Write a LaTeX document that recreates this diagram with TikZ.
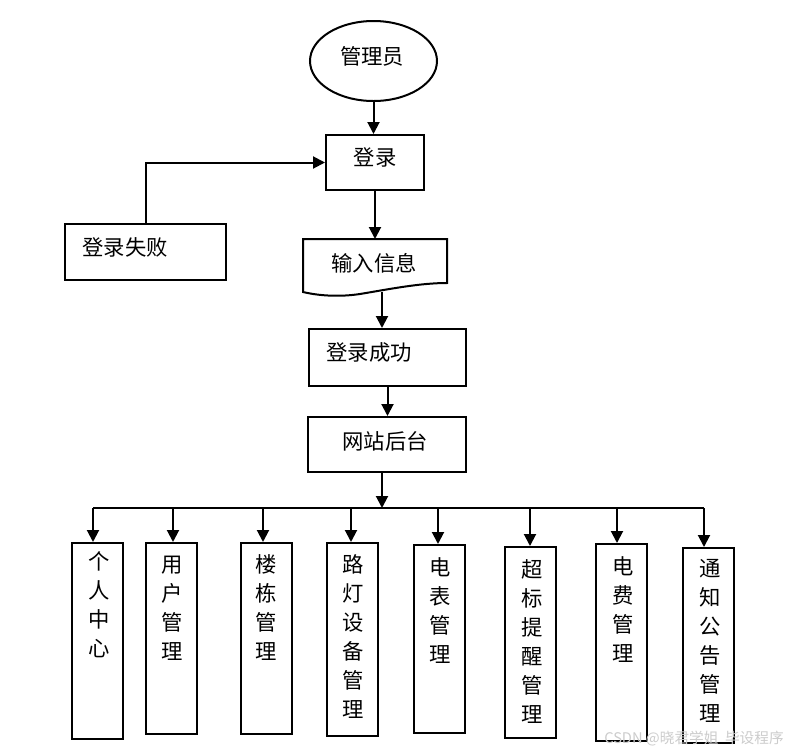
\documentclass[tikz,border=0pt]{standalone}
\usepackage{fontspec}
\newfontfamily\cjk{Noto Sans CJK SC}
\usetikzlibrary{arrows.meta,calc,shapes.geometric}
\tikzset{
  line/.style={line width=1.5pt},
  arr/.style={line width=1.5pt,-{Triangle[length=9pt,width=9pt]}},
  box/.style={draw,line width=1.5pt,rectangle,inner sep=0pt},
  vbox/.style={box,minimum width=38.25pt,anchor=north},
  txt/.style={font=\cjk\fontsize{16}{21.75}\selectfont,inner sep=0pt},
  vtxt/.style={txt,align=center,anchor=north},
}
\begin{document}
\begin{tikzpicture}[x=0.75pt,y=-0.75pt]
\fill[white] (0,0) rectangle (790,754);
\useasboundingbox (0,0) rectangle (790,754);

% top part
\node[draw,ellipse,line width=1.5pt,minimum width=95.25pt,minimum height=60pt,inner sep=0pt] (mgr) at (373.5,61) {};
\node[txt] (tmgr) at (372,56) {管理员};

\node[box,minimum width=73.5pt,minimum height=41.25pt] (login) at (375,162.5) {};
\node[txt] (tlogin) at (375,157) {登录};

\node[box,minimum width=120.75pt,minimum height=42pt] (fail) at (145.5,252) {};
\node[txt] (tfail) at (125,247) {登录失败};

\coordinate (docnw) at (303,239);
\draw[line,line join=miter] (303,292) -- (docnw) -- (447,239) -- (447,283)
  .. controls (420,283) and (390,289) .. (360,294)
  .. controls (340,297) and (320,296) .. cycle;
\node[txt] (tdoc) at (374,263) {输入信息};
\coordinate (docbot) at (382,291.5);

\node[box,minimum width=117.75pt,minimum height=42.75pt] (succ) at (387.5,357.5) {};
\node[txt] (tsucc) at (369,352) {登录成功};

\node[box,minimum width=118.5pt,minimum height=41.25pt] (site) at (387,444.5) {};
\node[txt] (tsite) at (385,441) {网站后台};

% connectors top
\draw[arr] (mgr.south) -- (mgr.south |- login.north);
\draw[arr] (fail.north) |- (login.west);
\draw[arr] (login.south) -- (login.south |- docnw);
\draw[arr] (docbot) -- (docbot |- succ.north);
\draw[arr] (succ.south) -- (succ.south |- site.north);

% bus
\coordinate (bt) at (382,508);
\coordinate (b1) at (93,508);
\coordinate (b2) at (173,508);
\coordinate (b3) at (263,508);
\coordinate (b4) at (351,508);
\coordinate (b5) at (438,508);
\coordinate (b6) at (530,508);
\coordinate (b7) at (617,508);
\coordinate (b8) at (704,508);
\draw[arr] (site.south -| bt) -- (bt);
\draw[line] (b1) -- (b8);

% vertical boxes
\node[vbox,minimum height=147pt] (n1) at (97.5,542) {};
\node[vbox,minimum height=143.25pt] (n2) at (171.5,542) {};
\node[vbox,minimum height=143.25pt] (n3) at (266.5,542) {};
\node[vbox,minimum height=144.75pt] (n4) at (352.5,542) {};
\node[vbox,minimum height=141pt] (n5) at (439.5,544) {};
\node[vbox,minimum height=143.25pt] (n6) at (530.5,546) {};
\node[vbox,minimum height=147.75pt] (n7) at (621.5,543) {};
\node[vbox,minimum height=146.25pt] (n8) at (708.5,547) {};

\foreach \i in {1,...,8}{
  \draw[arr] (b\i) -- (b\i |- n\i.north);
}

\node[vtxt] (t1) at (99,551) {个\\人\\中\\心};
\node[vtxt] (t2) at (172,556) {用\\户\\管\\理};
\node[vtxt] (t3) at (266,554) {楼\\栋\\管\\理};
\node[vtxt] (t4) at (353,554) {路\\灯\\设\\备\\管\\理};
\node[vtxt] (t5) at (440,557) {电\\表\\管\\理};
\node[vtxt] (t6) at (532,559) {超\\标\\提\\醒\\管\\理};
\node[vtxt] (t7) at (623,556) {电\\费\\管\\理};
\node[vtxt] (t8) at (710,559) {通\\知\\公\\告\\管\\理};

\node[text=gray!40,font=\cjk\fontsize{11}{13}\selectfont,anchor=east,inner sep=0pt] (wm) at (784,739) {CSDN @晓君学姐\ \ 毕设程序};
\end{tikzpicture}
\end{document}
